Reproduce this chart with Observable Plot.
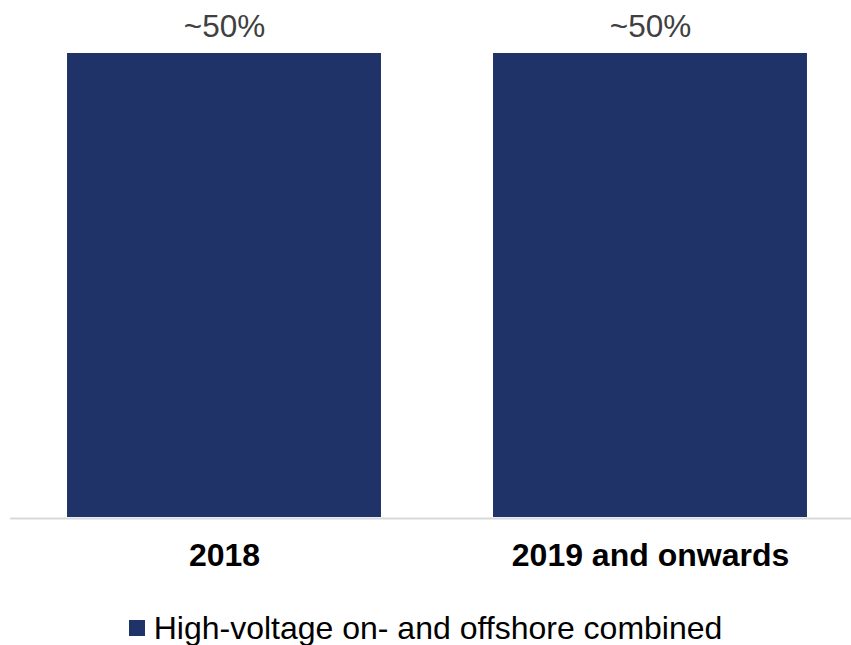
<!DOCTYPE html>
<html>
<head>
<meta charset="utf-8">
<script src="https://cdn.jsdelivr.net/npm/d3@7"></script>
<script src="https://cdn.jsdelivr.net/npm/@observablehq/plot@0.6"></script>
<style>
  html, body { margin: 0; padding: 0; background: #fff; }
  #wrap { position: relative; width: 851px; height: 645px; font-family: "Liberation Sans", Arial, sans-serif; }
  #legend { position: absolute; left: 0; top: 608px; width: 851px; display: flex; justify-content: center; align-items: center; font-size: 32px; line-height: 40px; color: #000; }
  #legend .sw { width: 16px; height: 16px; margin-right: 9px; display: inline-block; }
</style>
</head>
<body>
<div id="wrap">
  <div id="chart"></div>
  <div id="legend"></div>
</div>
<script>
const categories = ["2018", "2019 and onwards"];
const values = [50, 50];
const valueLabels = ["~50%", "~50%"];
const seriesName = "High-voltage on- and offshore combined";
const barColor = "#203369";

const data = categories.map((c, i) => ({category: c, value: values[i], label: valueLabels[i]}));

const chart = Plot.plot({
  width: 851,
  height: 600,
  marginLeft: 10,
  marginRight: 0,
  marginTop: 53,
  marginBottom: 83,
  style: {fontFamily: "'Liberation Sans', Arial, sans-serif", fontSize: "32px", background: "#fff"},
  x: {type: "band", domain: categories, range: [11, 863], paddingInner: 0.263, paddingOuter: 0.1315, round: false},
  y: {domain: [0, 50], axis: null},
  marks: [
    Plot.ruleY([0], {stroke: "#d9d9d9", strokeWidth: 2, dy: 1}),
    Plot.barY(data, {x: "category", y: "value", fill: barColor}),
    Plot.text(data, {x: "category", y: "value", text: "label", lineAnchor: "bottom", dy: -17, fill: "#404040", fontSize: 31.5}),
    Plot.axisX({tickSize: 0, tickPadding: 26, fontSize: 32, fontWeight: "bold", fill: "#000", label: null})
  ]
});
document.getElementById("chart").appendChild(chart);

const lg = document.getElementById("legend");
const sw = document.createElement("span");
sw.className = "sw";
sw.style.background = barColor;
lg.appendChild(sw);
const t = document.createElement("span");
t.textContent = seriesName;
lg.appendChild(t);
</script>
</body>
</html>
